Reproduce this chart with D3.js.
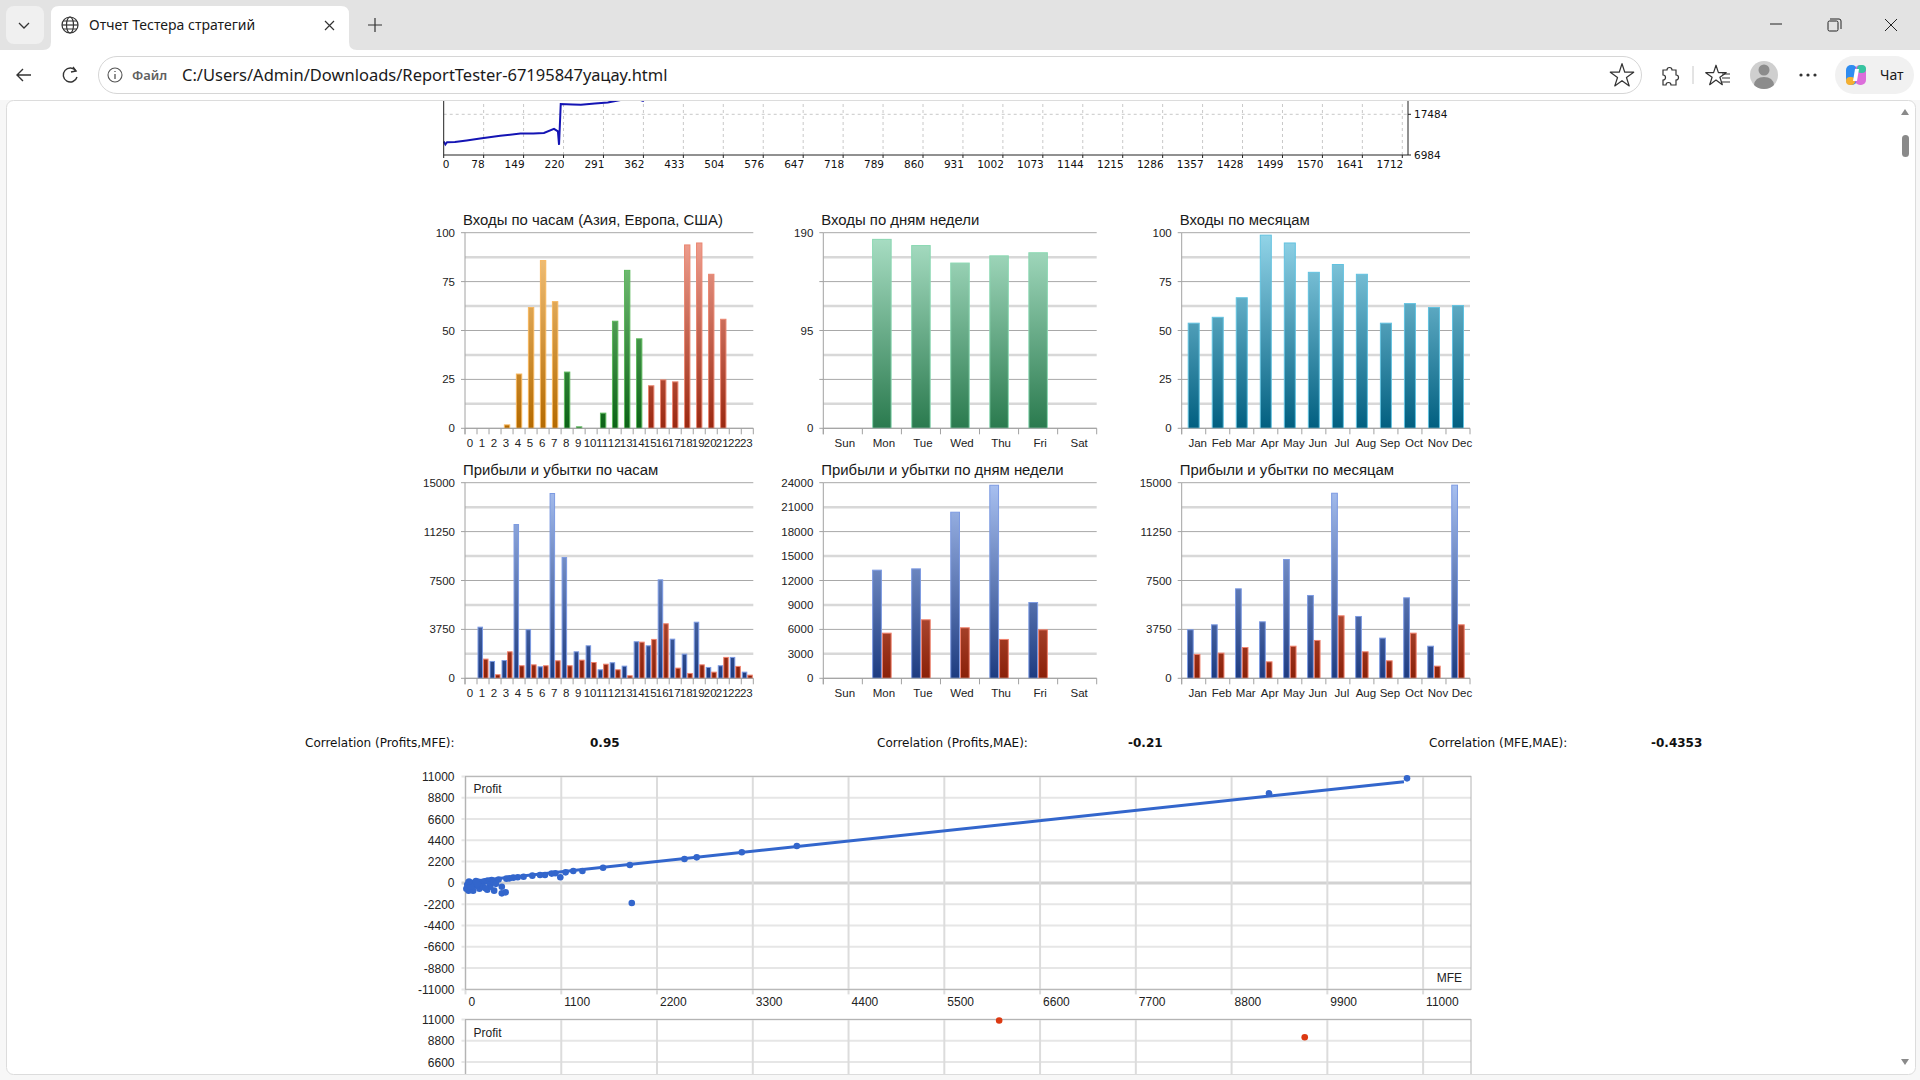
<!DOCTYPE html>
<html>
<head>
<meta charset="utf-8">
<title>Отчет Тестера стратегий</title>
<script src="https://cdn.jsdelivr.net/npm/d3@7/dist/d3.min.js"></script>
<style>
  body { margin: 0; overflow: hidden; background: #f7f7f7; }
</style>
</head>
<body>
<div id="chart"></div>
<script>
const hourLabels = ["0","1","2","3","4","5","6","7","8","9","10","11","12","13","14","15","16","17","18","19","20","21","22","23"];
const hourSession = ["asia","asia","asia","asia","asia","asia","asia","asia","europe","europe","europe","europe","europe","europe","europe","usa","usa","usa","usa","usa","usa","usa","usa","usa"];
const hourEntries = [0,0,0,2,28,62,86,65,29,1,0,8,55,81,46,22,25,24,94,95,79,56,0,0];
const hourProfit = [0,3960,1330,1400,11830,3760,920,14210,9300,2070,2530,690,1230,970,2840,2530,7590,3040,1890,4340,870,1000,1640,510];
const hourLoss = [0,1510,310,2070,1000,1070,1000,1380,1000,1430,1250,1120,690,230,2810,3020,4220,820,410,1070,510,1640,950,280];

const dayLabels = ["Sun","Mon","Tue","Wed","Thu","Fri","Sat"];
const dayEntries = [0,184,178,161,168,171,0];
const dayProfit = [0,13330,13490,20440,23750,9360,0];
const dayLoss = [0,5600,7240,6260,4830,6010,0];

const monthLabels = ["Jan","Feb","Mar","Apr","May","Jun","Jul","Aug","Sep","Oct","Nov","Dec"];
const monthEntries = [54,57,67,99,95,80,84,79,54,64,62,63];
const monthProfit = [3760,4140,6900,4370,9150,6390,14230,4780,3120,6210,2500,14850];
const monthLoss = [1870,1970,2400,1300,2500,2940,4830,2070,1380,3500,970,4140];

const eqTickLabels = ["0","78","149","220","291","362","433","504","576","647","718","789","860","931","1002","1073","1144","1215","1286","1357","1428","1499","1570","1641","1712"];
const eqTrades = [0,3,6,20,41,65,101,137,160,179,197,204,206,209,230,245,270,293,317,330,345,356,372,420];
const eqBalance = [10480,9700,10300,10350,10740,11260,11970,12500,12560,12680,13730,13100,9610,20110,20000,19930,20300,20550,21200,22000,21500,20950,23500,26000];

const corrLabels = ["Correlation (Profits,MFE):","Correlation (Profits,MAE):","Correlation (MFE,MAE):"];
const corrValues = ["0.95","-0.21","-0.4353"];

const scatterTicksY = [11000,8800,6600,4400,2200,0,-2200,-4400,-6600,-8800,-11000];
const scatterTicksX = [0,1100,2200,3300,4400,5500,6600,7700,8800,9900,11000];
const mfePoints = [
  [10815,10800],[9230,9250],[3806,3810],[3174,3160],[2656,2640],[2515,2470],[1888,1850],[1910,-2080],
  [1580,1570],[1343,1230],[1238,1230],[1150,1090],[1089,580],[1032,1000],[990,960],[913,820],[856,820],
  [768,750],[667,640],[600,590],[549,540],[505,470],[470,440],[417,-390],[417,-1080],[461,-975],[329,-800],
  [285,-390],[300,300],[260,250],[240,200],[220,150],[200,100],[180,-200],[150,120],[130,-300],[110,60],
  [90,-100],[70,-500],[50,30],[35,-800],[88,-800],[20,-200],[10,-600],[160,-600],[200,-400],[250,-700],
  [120,180],[60,-350],[280,-200],[320,100],[380,350],[350,-100],[40,150],[230,-550],[140,-150]
];
const mfeTrend = [[0,100],[10780,10450]];
const maePoints = [[6130,10900],[9640,9170]];

// ---- setup ----
const W = 1920, H = 1080;
const pageBottom = 1074;
const svg = d3.select("#chart").append("svg")
  .attr("width", W).attr("height", H)
  .style("display", "block");
const defs = svg.append("defs");

const palette = {
  asia: { top: "#f7c985", bottom: "#b46a00", stroke: "#f6b65e" },
  europe: { top: "#86cc86", bottom: "#0b6216", stroke: "#5cb85c" },
  usa: { top: "#f2a495", bottom: "#9a2810", stroke: "#ea8670" },
  day: { top: "#abe0c6", bottom: "#2a7a4e", stroke: "#8ad8b2" },
  month: { top: "#93d5e9", bottom: "#015f80", stroke: "#62c2e0" },
  profit: { top: "#a9c1f1", bottom: "#1d3b80", stroke: "#7c9ae2" },
  loss: { top: "#f09a86", bottom: "#8a2008", stroke: "#f0806c" }
};

function gradient(id, c, y1, y2) {
  const lg = defs.append("linearGradient")
    .attr("id", id)
    .attr("gradientUnits", "userSpaceOnUse")
    .attr("x1", 0).attr("x2", 0).attr("y1", y1).attr("y2", y2);
  lg.append("stop").attr("offset", "0%").attr("stop-color", c.top);
  lg.append("stop").attr("offset", "100%").attr("stop-color", c.bottom);
  return `url(#${id})`;
}

// ---- browser chrome ----
function drawChrome() {
  const c = svg.append("g").attr("font-family", "'Noto Sans', 'Open Sans', sans-serif");
  c.append("rect").attr("width", W).attr("height", 50).attr("fill", "#e3e3e3");
  c.append("rect").attr("x", 6).attr("y", 6).attr("width", 38).attr("height", 38).attr("rx", 8).attr("fill", "#f0f0f0");
  c.append("path").attr("d", "M19,23 L24,28 L29,23").attr("fill", "none").attr("stroke", "#333").attr("stroke-width", 1.3);

  // active tab
  c.append("path")
    .attr("d", "M43,50 Q51,50 51,42 L51,14 Q51,6 59,6 L341,6 Q349,6 349,14 L349,42 Q349,50 357,50 Z")
    .attr("fill", "#fff");
  const globe = c.append("g").attr("transform", "translate(70,25)").attr("fill", "none").attr("stroke", "#333").attr("stroke-width", 1.2);
  globe.append("circle").attr("r", 8);
  globe.append("ellipse").attr("rx", 3.5).attr("ry", 8);
  globe.append("line").attr("x1", -8).attr("x2", 8);
  globe.append("path").attr("d", "M-7,-4 H7 M-7,4 H7");
  c.append("text").attr("x", 89).attr("y", 30).attr("font-size", 14).attr("fill", "#1a1a1a").text("Отчет Тестера стратегий");
  c.append("path").attr("d", "M325,21 L334,30 M334,21 L325,30").attr("stroke", "#333").attr("stroke-width", 1.2);
  c.append("path").attr("d", "M368,25 H382 M375,18 V32").attr("stroke", "#333").attr("stroke-width", 1.2);

  // window controls
  c.append("path").attr("d", "M1770,24 H1782").attr("stroke", "#222").attr("stroke-width", 1);
  c.append("rect").attr("x", 1828).attr("y", 21).attr("width", 10).attr("height", 10).attr("rx", 1.5).attr("fill", "none").attr("stroke", "#222");
  c.append("path").attr("d", "M1830,19 H1839 Q1841,19 1841,21 V29").attr("fill", "none").attr("stroke", "#222");
  c.append("path").attr("d", "M1885,19 L1897,31 M1897,19 L1885,31").attr("stroke", "#222").attr("stroke-width", 1);

  // toolbar row
  c.append("rect").attr("y", 50).attr("width", W).attr("height", 50).attr("fill", "#fff");
  c.append("path").attr("d", "M31,75 H17 M23,69 L17,75 L23,81").attr("fill", "none").attr("stroke", "#333").attr("stroke-width", 1.4);
  c.append("path").attr("d", "M76,71 A7,7 0 1 0 77,77").attr("fill", "none").attr("stroke", "#333").attr("stroke-width", 1.4);
  c.append("path").attr("d", "M73,67 L76,71 L71,72").attr("fill", "none").attr("stroke", "#333").attr("stroke-width", 1.4);
  c.append("rect").attr("x", 98.5).attr("y", 56.5).attr("width", 1543).attr("height", 37).attr("rx", 18.5)
    .attr("fill", "#fff").attr("stroke", "#d6d6d6");
  c.append("circle").attr("cx", 115).attr("cy", 75).attr("r", 7).attr("fill", "none").attr("stroke", "#555").attr("stroke-width", 1.1);
  c.append("path").attr("d", "M115,74 V79 M115,71 V72").attr("stroke", "#555").attr("stroke-width", 1.3);
  c.append("text").attr("x", 132).attr("y", 80).attr("font-size", 13).attr("font-weight", 600).attr("fill", "#606060").text("Файл");
  c.append("text").attr("x", 182).attr("y", 81).attr("font-size", 16.5).attr("fill", "#1a1a1a")
    .text("C:/Users/Admin/Downloads/ReportTester-67195847уацау.html");
  c.append("path")
    .attr("d", d3.symbol(d3.symbolStar, 170)())
    .attr("transform", "translate(1622,76)")
    .attr("fill", "none").attr("stroke", "#333").attr("stroke-width", 1.2).attr("stroke-linejoin", "round");
  c.append("path")
    .attr("d", "M1663,70 h4 a2.5,2.5 0 0 1 5,0 h4 v5 a2.5,2.5 0 0 1 0,5 v5 h-5 a2.5,2.5 0 0 0 -5,0 h-3 v-5 a2.5,2.5 0 0 0 0,-5 z")
    .attr("fill", "none").attr("stroke", "#333").attr("stroke-width", 1.2);
  c.append("line").attr("x1", 1693).attr("x2", 1693).attr("y1", 66).attr("y2", 84).attr("stroke", "#c8c8c8");
  c.append("path")
    .attr("d", d3.symbol(d3.symbolStar, 130)())
    .attr("transform", "translate(1716,76)")
    .attr("fill", "none").attr("stroke", "#333").attr("stroke-width", 1.2).attr("stroke-linejoin", "round");
  c.append("path").attr("d", "M1722,74 h8 M1722,78 h8 M1722,82 h8").attr("stroke", "#333").attr("stroke-width", 1.2);
  c.append("circle").attr("cx", 1764).attr("cy", 75).attr("r", 14).attr("fill", "#cfcfcf");
  c.append("circle").attr("cx", 1764).attr("cy", 70).attr("r", 5.5).attr("fill", "#8c8c8c");
  c.append("path").attr("d", "M1754,85 Q1755,77 1764,77 Q1773,77 1774,85 Q1770,89 1764,89 Q1758,89 1754,85 Z").attr("fill", "#8c8c8c");
  c.selectAll(".dot").data([1801, 1808, 1815]).join("circle")
    .attr("cx", (d) => d).attr("cy", 75).attr("r", 1.6).attr("fill", "#333");
  c.append("rect").attr("x", 1835).attr("y", 56).attr("width", 79).attr("height", 38).attr("rx", 19).attr("fill", "#f1f1f1");
  // copilot-like icon
  const cop = c.append("g").attr("transform", "translate(1856,75)");
  cop.append("rect").attr("x", -10).attr("y", -10).attr("width", 11).attr("height", 20).attr("rx", 5).attr("fill", "#2f8cf0");
  cop.append("rect").attr("x", -1).attr("y", -10).attr("width", 11).attr("height", 20).attr("rx", 5).attr("fill", "#d95fd8").attr("opacity", 0.9);
  cop.append("rect").attr("x", -10).attr("y", 2).attr("width", 9).attr("height", 8).attr("rx", 4).attr("fill", "#f5b031");
  cop.append("rect").attr("x", 1).attr("y", -10).attr("width", 9).attr("height", 8).attr("rx", 4).attr("fill", "#37c5a0");
  cop.append("path").attr("d", "M-1,-6 L3,-6 L1,6 L-3,6 Z").attr("fill", "#fff");
  c.append("text").attr("x", 1880).attr("y", 80).attr("font-size", 14).attr("fill", "#1a1a1a").text("Чат");

  // page frame and scrollbar
  c.append("rect").attr("x", 6.5).attr("y", 100.5).attr("width", 1909).attr("height", 974).attr("rx", 7)
    .attr("fill", "#fff").attr("stroke", "#dcdcdc");
  c.append("path").attr("d", "M1901,115 L1905,109 L1909,115 Z").attr("fill", "#8a8a8a");
  c.append("rect").attr("x", 1902).attr("y", 135).attr("width", 7).attr("height", 22).attr("rx", 3.5).attr("fill", "#8a8a8a");
  c.append("path").attr("d", "M1901,1059 L1905,1065 L1909,1059 Z").attr("fill", "#8a8a8a");
}

drawChrome();

defs.append("clipPath").attr("id", "pageClip")
  .append("rect").attr("x", 7).attr("y", 101).attr("width", 1892).attr("height", pageBottom - 101);
const page = svg.append("g").attr("clip-path", "url(#pageClip)");

// ---- equity / balance graph (top, scrolled off) ----
function drawEquity() {
  const g = page.append("g").attr("font-family", "'DejaVu Sans', sans-serif").attr("font-size", 10.5);
  const left = 443.7, right = 1408, bottom = 155, top = 80;
  const xi = d3.scaleLinear().domain([0, eqTickLabels.length - 1]).range([left, 1402.3]);
  const x = d3.scaleLinear().domain([0, 1712]).range([left, 1402.3]);
  const y = d3.scaleLinear().domain([6984, 17484]).range([bottom, 114.3]);

  g.selectAll(".vgrid").data(eqTickLabels.slice(1)).join("line")
    .attr("x1", (d, i) => xi(i + 1)).attr("x2", (d, i) => xi(i + 1))
    .attr("y1", top).attr("y2", bottom)
    .attr("stroke", "#c8c8c8").attr("stroke-dasharray", "3,3");
  g.append("line").attr("x1", left).attr("x2", right).attr("y1", y(17484)).attr("y2", y(17484))
    .attr("stroke", "#c8c8c8").attr("stroke-dasharray", "3,3");

  g.append("path")
    .datum(eqTrades.map((t, i) => [t, eqBalance[i]]))
    .attr("d", d3.line().x((d) => x(d[0])).y((d) => y(d[1])))
    .attr("fill", "none").attr("stroke", "#1414b4").attr("stroke-width", 2);

  g.append("path").attr("d", `M${left},${top} V${bottom} H${right} V${top}`)
    .attr("fill", "none").attr("stroke", "#222");
  g.selectAll(".xt").data(eqTickLabels).join("line")
    .attr("x1", (d, i) => xi(i)).attr("x2", (d, i) => xi(i))
    .attr("y1", bottom).attr("y2", bottom + 3).attr("stroke", "#222");
  g.selectAll(".xl").data(eqTickLabels).join("text")
    .attr("x", (d, i) => (i === 0 ? left - 1 : xi(i) + 1))
    .attr("y", bottom + 13)
    .attr("text-anchor", (d, i) => (i === 0 ? "start" : "end"))
    .attr("fill", "#111")
    .text((d) => d);
  g.selectAll(".yl").data([17484, 6984]).join("text")
    .attr("x", right + 6).attr("y", (d) => y(d) + 4)
    .attr("fill", "#111").text((d) => d);
  g.selectAll(".yt").data([17484, 6984]).join("line")
    .attr("x1", right).attr("x2", right + 3).attr("y1", (d) => y(d)).attr("y2", (d) => y(d)).attr("stroke", "#222");
}

drawEquity();

// ---- bar charts ----
function barChart(o) {
  const g = page.append("g").attr("font-family", "'Liberation Sans', Arial, sans-serif");
  const x = d3.scaleBand().domain(o.labels).range([o.left, o.right]);
  const y = d3.scaleLinear().domain([0, o.max]).range([o.bottom, o.top]);
  const axisColor = "#a2a2a2";

  const lines = d3.range(9).map((i) => (o.max * i) / 8);
  g.selectAll(".grid").data(lines).join("line")
    .attr("x1", o.left).attr("x2", o.right)
    .attr("y1", (d) => y(d)).attr("y2", (d) => y(d))
    .attr("stroke", (d, i) => (i % 2 ? "#d8d8d8" : "#a8a8a8"))
    .attr("stroke-width", (d, i) => (i % 2 ? 2.5 : 1));
  g.selectAll(".ytick").data(lines.filter((d, i) => i % 2 === 0)).join("line")
    .attr("x1", o.left - 4).attr("x2", o.left)
    .attr("y1", (d) => y(d)).attr("y2", (d) => y(d))
    .attr("stroke", axisColor);

  const bw = x.bandwidth();
  o.series.forEach((s, si) => {
    const w = bw * o.barFrac;
    const off = (bw - w * o.series.length) / 2 + si * w;
    g.selectAll(`.bar${si}`).data(s.values).join("rect")
      .attr("x", (d, i) => x(o.labels[i]) + off + 0.5)
      .attr("width", w - 1)
      .attr("y", (d) => y(d) + 0.5)
      .attr("height", (d) => Math.max(0, y(0) - y(d) - 0.5))
      .attr("fill", (d, i) => s.fill(i))
      .attr("stroke", (d, i) => s.stroke(i))
      .attr("stroke-width", 1)
      .attr("display", (d) => (d > 0 ? null : "none"));
  });

  g.append("line").attr("x1", o.left).attr("x2", o.left).attr("y1", o.top).attr("y2", o.bottom + 6).attr("stroke", axisColor);
  g.append("line").attr("x1", o.left).attr("x2", o.right).attr("y1", o.bottom).attr("y2", o.bottom).attr("stroke", axisColor);
  g.selectAll(".xtick").data(d3.range(o.labels.length + 1)).join("line")
    .attr("x1", (d) => o.left + d * x.step()).attr("x2", (d) => o.left + d * x.step())
    .attr("y1", o.bottom).attr("y2", o.bottom + 6)
    .attr("stroke", axisColor);

  g.selectAll(".xl").data(o.labels).join("text")
    .attr("x", (d) => x(d) + bw / 2 + (o.labelShift || 0))
    .attr("y", o.bottom + 19)
    .attr("text-anchor", "middle")
    .attr("font-size", 11.5).attr("fill", "#222")
    .text((d) => d);
  g.selectAll(".yl").data(o.ticks).join("text")
    .attr("x", o.left - 10).attr("y", (d) => y(d) + 4)
    .attr("text-anchor", "end")
    .attr("font-size", 11.5).attr("fill", "#222")
    .text((d) => d);
  g.append("text")
    .attr("x", o.left - 2).attr("y", o.top - 8)
    .attr("font-size", 14.9).attr("fill", "#1a1a1a")
    .text(o.title);
}

const cols = [
  { left: 465, right: 753.3 },
  { left: 823.3, right: 1096.7 },
  { left: 1181.7, right: 1470 }
];
const rows = [
  { top: 232.7, bottom: 428.3 },
  { top: 482.7, bottom: 678.3 }
];

function fills(name, row) {
  const url = gradient(`g-${name}-${row}`, palette[name], rows[row].top, rows[row].bottom);
  return { fill: () => url, stroke: () => palette[name].stroke };
}

const sessionFill = {};
["asia", "europe", "usa"].forEach((k) => (sessionFill[k] = fills(k, 0)));

barChart({
  ...cols[0], ...rows[0],
  title: "Входы по часам (Азия, Европа, США)",
  labels: hourLabels, max: 100, ticks: [0, 25, 50, 75, 100], barFrac: 0.53, labelShift: -1,
  series: [{
    values: hourEntries,
    fill: (i) => sessionFill[hourSession[i]].fill(),
    stroke: (i) => sessionFill[hourSession[i]].stroke()
  }]
});
barChart({
  ...cols[1], ...rows[0],
  title: "Входы по дням недели",
  labels: dayLabels, max: 190, ticks: [0, 95, 190], barFrac: 0.5, labelShift: 2,
  series: [{ values: dayEntries, ...fills("day", 0) }]
});
barChart({
  ...cols[2], ...rows[0],
  title: "Входы по месяцам",
  labels: monthLabels, max: 100, ticks: [0, 25, 50, 75, 100], barFrac: 0.5, labelShift: 4,
  series: [{ values: monthEntries, ...fills("month", 0) }]
});

const profitFill = fills("profit", 1);
const lossFill = fills("loss", 1);
barChart({
  ...cols[0], ...rows[1],
  title: "Прибыли и убытки по часам",
  labels: hourLabels, max: 15000, ticks: [0, 3750, 7500, 11250, 15000], barFrac: 0.46, labelShift: -1,
  series: [{ values: hourProfit, ...profitFill }, { values: hourLoss, ...lossFill }]
});
barChart({
  ...cols[1], ...rows[1],
  title: "Прибыли и убытки по дням недели",
  labels: dayLabels, max: 24000, ticks: [0, 3000, 6000, 9000, 12000, 15000, 18000, 21000, 24000], barFrac: 0.25, labelShift: 2,
  series: [{ values: dayProfit, ...profitFill }, { values: dayLoss, ...lossFill }]
});
barChart({
  ...cols[2], ...rows[1],
  title: "Прибыли и убытки по месяцам",
  labels: monthLabels, max: 15000, ticks: [0, 3750, 7500, 11250, 15000], barFrac: 0.28, labelShift: 4,
  series: [{ values: monthProfit, ...profitFill }, { values: monthLoss, ...lossFill }]
});

// ---- correlation row ----
const corr = page.append("g").attr("font-family", "'DejaVu Sans', sans-serif").attr("font-size", 12).attr("fill", "#111");
const corrLabelX = d3.scaleOrdinal().domain(corrLabels).range([305, 877, 1429]);
const corrValueX = d3.scaleOrdinal().domain(corrValues).range([590, 1128, 1651]);
corr.selectAll(".cl").data(corrLabels).join("text")
  .attr("x", (d) => corrLabelX(d)).attr("y", 747).text((d) => d);
corr.selectAll(".cv").data(corrValues).join("text")
  .attr("x", (d) => corrValueX(d)).attr("y", 747).attr("font-weight", "bold").text((d) => d);

// ---- scatter charts ----
function scatter(o) {
  const g = page.append("g").attr("font-family", "'Liberation Sans', Arial, sans-serif").attr("font-size", 12);
  const x = d3.scaleLinear().domain([0, 11550]).range([465.5, 1471]);
  const y = d3.scaleLinear().domain([-11000, 11000]).range([o.top + 213, o.top]);
  const [x0, x1] = x.range();
  const visible = (v) => v < pageBottom - 4;

  g.selectAll(".hg").data(scatterTicksY).join("line")
    .attr("x1", x0 - 4).attr("x2", x1).attr("y1", (d) => y(d)).attr("y2", (d) => y(d))
    .attr("stroke", (d) => (d === 0 ? "#d2d2d2" : "#e6e6e6"))
    .attr("stroke-width", (d) => (d === 0 ? 3 : 2));
  g.selectAll(".vg").data(scatterTicksX).join("line")
    .attr("x1", (d) => x(d)).attr("x2", (d) => x(d)).attr("y1", o.top).attr("y2", o.top + 218)
    .attr("stroke", "#dcdcdc").attr("stroke-width", 2);
  g.append("rect").attr("x", x0).attr("y", o.top).attr("width", x1 - x0).attr("height", 213)
    .attr("fill", "none").attr("stroke", "#b4b4b4");

  // only labels that fall inside the visible part of the page
  g.selectAll(".yl").data(scatterTicksY.filter((d) => visible(y(d) + 5))).join("text")
    .attr("x", x0 - 11).attr("y", (d) => y(d) + 4.5).attr("text-anchor", "end").attr("fill", "#222")
    .text((d) => d);
  if (visible(o.top + 230)) {
    g.selectAll(".xl").data(scatterTicksX).join("text")
      .attr("x", (d) => x(d) + 3).attr("y", o.top + 230).attr("fill", "#222")
      .text((d) => d);
  }
  g.append("text").attr("x", x0 + 8).attr("y", o.top + 17).attr("fill", "#222").text(o.yName);
  if (o.xName) {
    g.append("text").attr("x", x1 - 9).attr("y", o.top + 206).attr("text-anchor", "end").attr("fill", "#222").text(o.xName);
  }
  if (o.trend) {
    g.append("path").datum(o.trend)
      .attr("d", d3.line().x((d) => x(d[0])).y((d) => y(d[1])))
      .attr("stroke", o.color).attr("stroke-width", 3).attr("fill", "none");
  }
  g.selectAll(".pt").data(o.points).join("circle")
    .attr("cx", (d) => x(d[0])).attr("cy", (d) => y(d[1])).attr("r", 3.3)
    .attr("fill", o.color);
}

scatter({ top: 776.4, yName: "Profit", xName: "MFE", points: mfePoints, trend: mfeTrend, color: "#3366cc" });
scatter({ top: 1019.5, yName: "Profit", points: maePoints, color: "#dc3912" });
</script>
</body>
</html>
